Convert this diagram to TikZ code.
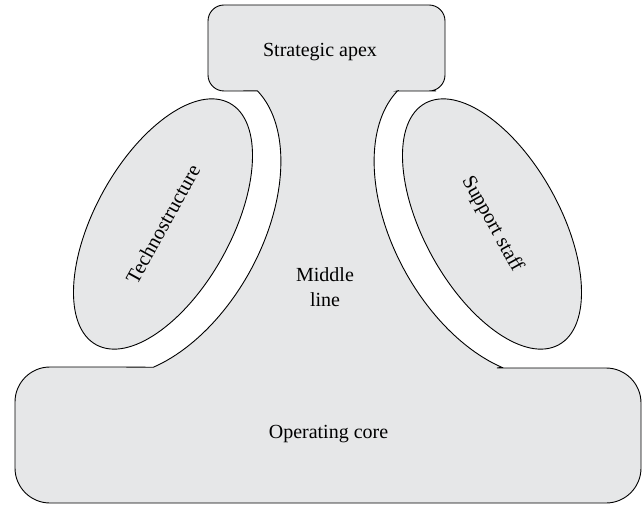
\documentclass[tikz,border=0pt]{standalone}
\usepackage{fontspec}
\setmainfont{Liberation Serif}
\usetikzlibrary{shapes.geometric}
\definecolor{boxgray}{RGB}{230,231,232}
\begin{document}
\begin{tikzpicture}[x=1pt,y=-1pt,
  shapefill/.style={fill=boxgray, draw=black, line width=0.9pt},
  lbl/.style={font=\fontsize{20}{25}\selectfont, align=center, inner sep=0pt},
  blob/.style={ellipse, shapefill, minimum width=276pt, minimum height=136pt, inner sep=0pt, font=\fontsize{20.5}{25}\selectfont}]
\useasboundingbox (0,0) rectangle (643,505);
% middle line with strategic apex and operating core
\draw[shapefill] (208,40) [rounded corners=16pt] -- (208,5) -- (445,5) -- (445,91) -- (420,91) [sharp corners] -- (397,91)
  -- plot[domain=10.5:142, samples=60, variable=\t] ({492-80*cos(\t)-86.6*sin(\t)}, {224-144.3*cos(\t)+48*sin(\t)})
  -- (497,368) -- (530,368) [rounded corners=35pt] -- (641,368) -- (641,503) -- (15,503) -- (15,367) -- (100,367) [sharp corners] -- (120,367)
  -- plot[domain=142:10.5, samples=60, variable=\t] ({163+80*cos(\t)+86.6*sin(\t)}, {224-144.3*cos(\t)+48*sin(\t)})
  -- (235,91) [rounded corners=16pt] -- (208,91) -- cycle;
\node[blob, rotate=61] (tech) at (163,224) {Technostructure};
\node[blob, rotate=-61] (supp) at (492,224) {Support staff};
\node[lbl, anchor=base] (apex) at (320,56.5) {Strategic apex};
\node[lbl] (mid) at (325,287.3) {Middle\\line};
\node[lbl, anchor=base] (core) at (328.5,438) {Operating core};
\end{tikzpicture}
\end{document}
